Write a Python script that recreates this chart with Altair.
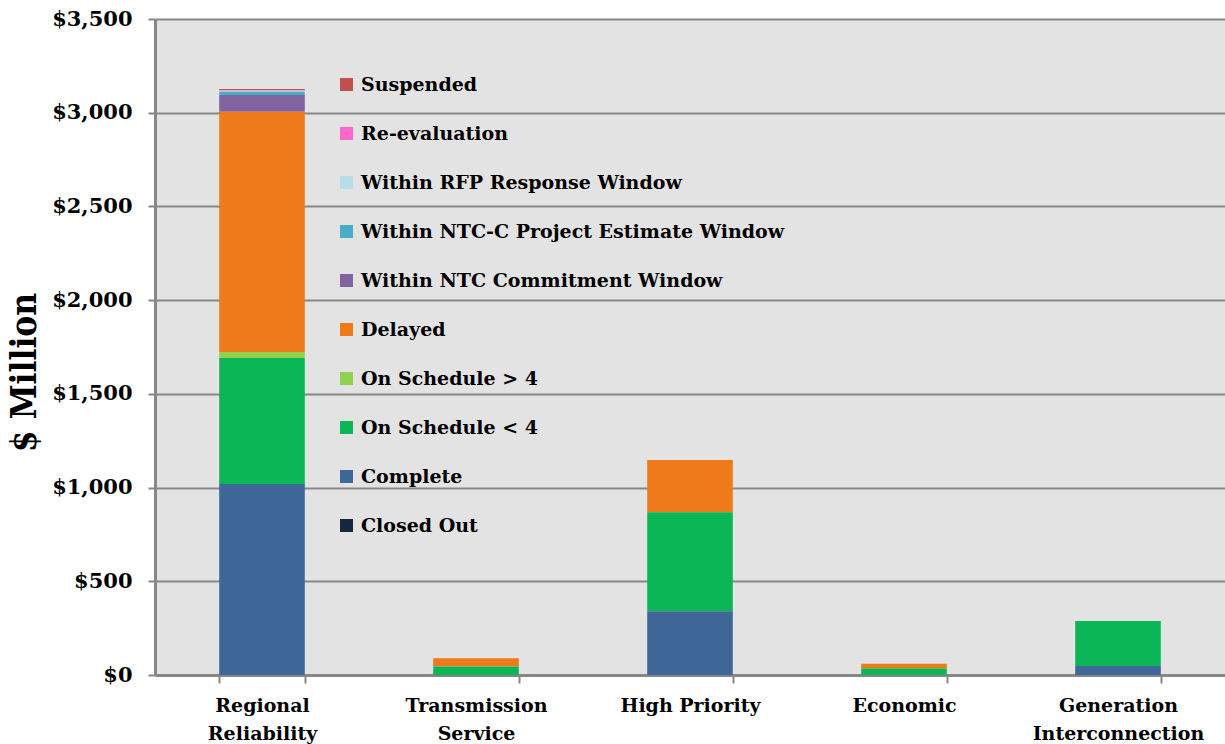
import altair as alt
import pandas as pd

# Project categories (| marks a line break in the axis label)
categories = [
    "Regional|Reliability",
    "Transmission|Service",
    "High Priority",
    "Economic",
    "Generation|Interconnection",
]

# Status names, listed top of legend first
statuses = [
    "Suspended",
    "Re-evaluation",
    "Within RFP Response Window",
    "Within NTC-C Project Estimate Window",
    "Within NTC Commitment Window",
    "Delayed",
    "On Schedule > 4",
    "On Schedule < 4",
    "Complete",
    "Closed Out",
]

status_colors = [
    "#C0504D",
    "#FF66CC",
    "#B7DEE8",
    "#4BACC6",
    "#8064A2",
    "#EE7A1A",
    "#92D050",
    "#0BB656",
    "#3F6899",
    "#17263F",
]

# Cost in $ million per status, one value per category
closed_out = [0, 0, 0, 0, 0]
complete = [1019, 0, 340, 0, 48]
on_schedule_lt4 = [672, 45, 528, 35, 240]
on_schedule_gt4 = [32, 0, 0, 0, 0]
delayed = [1282, 44, 279, 25, 0]
ntc_commitment = [89, 0, 0, 0, 0]
ntc_c_estimate = [18, 0, 0, 0, 0]
rfp_response = [5, 0, 0, 0, 0]
re_evaluation = [3, 0, 0, 0, 0]
suspended = [6, 0, 0, 0, 0]

series = {
    "Suspended": suspended,
    "Re-evaluation": re_evaluation,
    "Within RFP Response Window": rfp_response,
    "Within NTC-C Project Estimate Window": ntc_c_estimate,
    "Within NTC Commitment Window": ntc_commitment,
    "Delayed": delayed,
    "On Schedule > 4": on_schedule_gt4,
    "On Schedule < 4": on_schedule_lt4,
    "Complete": complete,
    "Closed Out": closed_out,
}

rows = []
for rank, name in enumerate(statuses):
    for cat, val in zip(categories, series[name]):
        # stack from the bottom of the list upward
        rows.append({"category": cat, "status": name, "value": val,
                     "stack_order": len(statuses) - rank})
df = pd.DataFrame(rows)

FONT = "DejaVu Serif"
GRID = "#878787"

bars = alt.Chart(df).mark_bar(strokeWidth=0).encode(
    x=alt.X(
        "category:N",
        sort=categories,
        scale=alt.Scale(paddingInner=0.6, paddingOuter=0.3),
        axis=alt.Axis(
            title=None,
            labelAngle=0,
            labelExpr="split(datum.label, '|')",
            labelLineHeight=28,
            labelPadding=13,
            labelFontSize=19,
            labelFont=FONT,
            labelFontWeight="bold",
            labelColor="black",
            tickBand="extent",
            tickSize=8,
            tickColor=GRID,
            tickWidth=2,
            domainColor=GRID,
            domainWidth=3,
            grid=False,
        ),
    ),
    y=alt.Y(
        "value:Q",
        stack="zero",
        scale=alt.Scale(domain=[0, 3500], nice=False),
        axis=alt.Axis(
            title="$ Million",
            values=[0, 500, 1000, 1500, 2000, 2500, 3000, 3500],
            labelExpr="'$' + format(datum.value, ',')",
            labelFontSize=21,
            labelFont=FONT,
            labelFontWeight="bold",
            labelColor="black",
            labelPadding=16,
            tickSize=7,
            tickColor=GRID,
            tickWidth=2,
            domainColor=GRID,
            domainWidth=3,
            grid=True,
            gridColor=GRID,
            gridWidth=2,
            titleFont="DejaVu Serif Condensed",
            titleFontSize=35,
            titleFontWeight="bold",
            titleColor="black",
            titleX=-131,
            titleY=353,
            titleAlign="center",
            titleBaseline="middle",
            titleAngle=270,
        ),
    ),
    color=alt.Color(
        "status:N",
        scale=alt.Scale(domain=statuses, range=status_colors),
        legend=alt.Legend(
            title=None,
            orient="none",
            legendX=182,
            legendY=56,
            symbolType="square",
            symbolSize=169,
            symbolStrokeWidth=0,
            labelFont=FONT,
            labelFontSize=19,
            labelFontWeight="bold",
            labelColor="black",
            labelOffset=5,
            rowPadding=29,
            padding=0,
            labelLimit=600,
        ),
    ),
    order=alt.Order("stack_order:Q", sort="ascending"),
)

chart = bars.properties(
    width=1070,
    height=656,
    autosize=alt.AutoSizeParams(type="none"),
    padding={"left": 155, "top": 19, "right": 0, "bottom": 69},
    background="white",
).configure_view(fill="#E3E3E3", strokeWidth=0)

chart.save("out.html", embed_options={"renderer": "svg", "actions": False})
